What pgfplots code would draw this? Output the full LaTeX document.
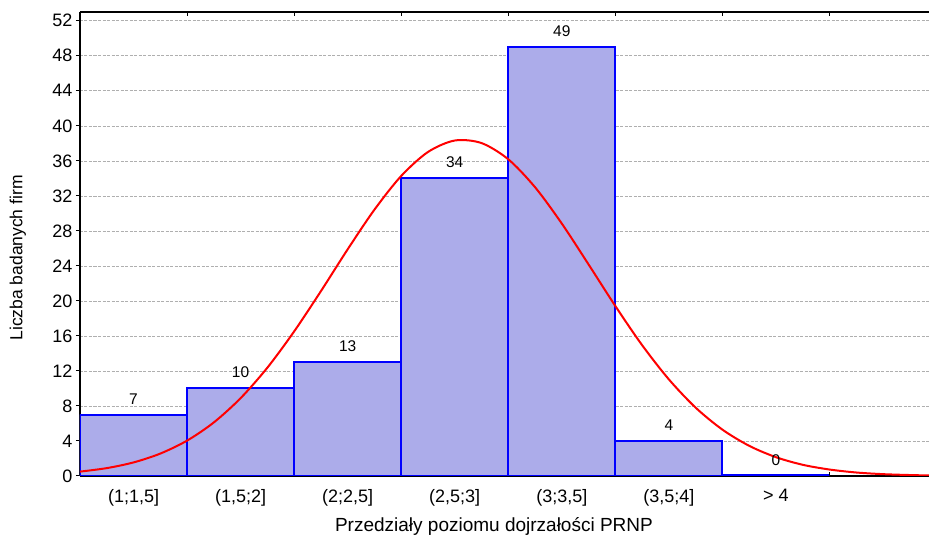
\documentclass[border=0pt]{standalone}
\usepackage{pgfplots}
\pgfplotsset{compat=1.18}
\usepackage{fontspec}
\setmainfont{Liberation Sans}

\definecolor{barfill}{RGB}{172,172,234}
\definecolor{gridgray}{RGB}{175,175,175}

\begin{document}
\begin{tikzpicture}
\useasboundingbox (0,0) rectangle (929pt,535pt);
\begin{axis}[
  at={(80pt,59pt)}, anchor=south west,
  scale only axis, width=849pt, height=464pt,
  xmin=0, xmax=7.93, ymin=0, ymax=53,
  axis x line*=box, axis y line*=left,
  axis line style={line width=1.5pt},
  ytick={0,4,...,52},
  xtick={1,2,...,7}, xticklabels={,,,,,,},
  tick align=inside, major tick length=4pt,
  tick style={black, line width=1pt},
  y tick style={xshift=-4pt},
  extra x ticks={0.5,1.5,...,6.5},
  extra x tick labels={{(1;1,5]},{(1,5;2]},{(2;2,5]},{(2,5;3]},{(3;3,5]},{(3,5;4]},{> 4}},
  extra x tick style={major tick length=0pt,
    tick label style={font=\fontsize{18}{20}\selectfont, yshift=-10pt}},
  y tick label style={font=\fontsize{18}{20}\selectfont, xshift=-4pt},
  /pgf/number format/assume math mode=true,
  ymajorgrids, grid style={gridgray, dash pattern=on 3pt off 1.5pt, line width=0.6pt},
  xlabel={Przedziały poziomu dojrzałości PRNP},
  ylabel={Liczba badanych firm},
  xlabel style={at={(axis description cs:0.4876,0)}, anchor=center, yshift=-50pt,
    font=\fontsize{19}{21}\selectfont},
  ylabel style={at={(axis description cs:-0.0733,0.47)}, anchor=center,
    font=\fontsize{17.5}{19}\selectfont},
]
\addplot[ybar, bar width=1, bar shift=0pt, draw=blue, line width=2pt, fill=barfill,
  nodes near coords,
  every node near coord/.append style={black, font=\fontsize{15.5}{17}\selectfont, yshift=6pt}]
  coordinates {(0.5,7) (1.5,10) (2.5,13) (3.5,34) (4.5,49) (5.5,4) (6.5,0)};
% the empty "> 4" class shows as a blue line lying on the axis
\addplot[blue, line width=2pt, no marks] coordinates {(6,0.15) (7,0.15)};
\addplot[red, line width=2pt, smooth, no marks] coordinates {
  (0,0.50) (0.25,0.90) (0.5,1.55) (0.75,2.56) (1,4.04) (1.25,6.12) (1.5,8.89)
  (1.75,12.37) (2,16.51) (2.25,21.11) (2.5,25.89) (2.75,30.42) (3,34.27)
  (3.25,37.01) (3.5,38.32) (3.75,38.03) (4,36.18) (4.25,32.99)
  (4.5,28.84) (4.75,24.17) (5,19.42) (5.25,14.95) (5.5,11.04) (5.75,7.81)
  (6,5.30) (6.25,3.45) (6.5,2.15) (6.75,1.28) (7,0.74) (7.25,0.40) (7.5,0.21)
  (7.75,0.11) (7.93,0.06)};
\end{axis}
\end{tikzpicture}
\end{document}
